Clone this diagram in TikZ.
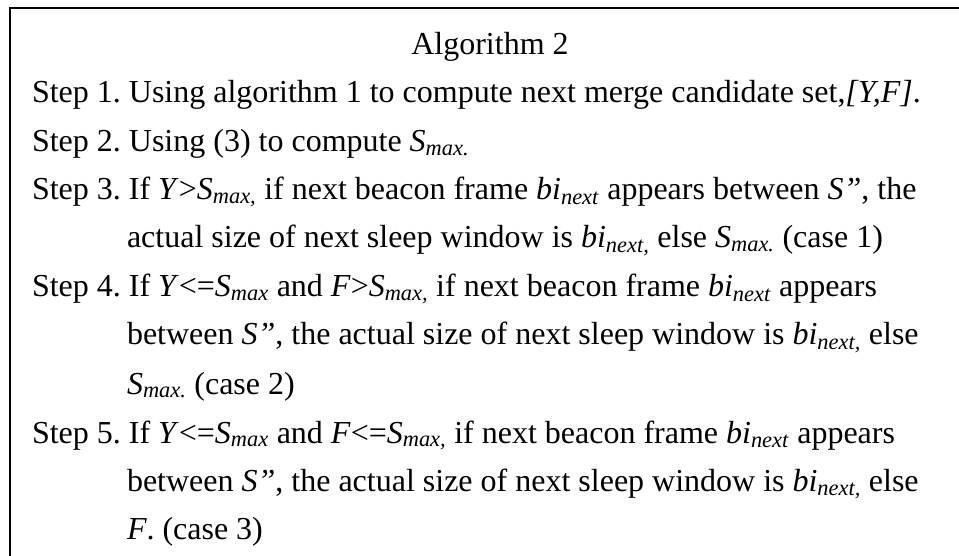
\documentclass[tikz,border=0pt]{standalone}
\usepackage{fontspec}
\setmainfont{Liberation Serif}
\newcommand{\It}[1]{\textit{#1}}
\newcommand{\Sub}[1]{\textsubscript{\textit{#1}}}
\newcommand{\Smx}[1][]{\textit{S}\Sub{max#1}}
\newcommand{\Bin}[1][]{\textit{bi}\Sub{next#1}}
\begin{document}
\frenchspacing
\begin{tikzpicture}[x=1bp,y=-1bp,
  txt/.style={anchor=base west,inner sep=0pt,outer sep=0pt,font=\fontsize{32bp}{38bp}\selectfont},
  frame/.style={line width=2bp,black}]
\useasboundingbox (0,0) rectangle (959,556);
\coordinate (tl) at (10,8);
\coordinate (tr) at (959,8);
\coordinate (bl) at (10,556);
\draw[frame] (tr) -- (tl) -- (bl);
\node[txt,anchor=base] (title) at (490,55) {Algorithm 2};
\node[txt] (s1) at (32,103) {Step 1. Using algorithm 1 to compute next merge candidate set,\It{[Y,F]}.};
\node[txt] (s2) at (32,152) {Step 2. Using (3) to compute \Smx[.]};
\node[txt] (s3a) at (32,200) {Step 3. If \It{Y}>\Smx[,] if next beacon frame \Bin{} appears between \It{S”}, the};
\node[txt] (s3b) at (127,248) {actual size of next sleep window is \Bin[,] else \Smx[.] (case 1)};
\node[txt] (s4a) at (32,297) {Step 4. If \It{Y}<=\Smx{} and \It{F}>\Smx[,] if next beacon frame \Bin{} appears};
\node[txt] (s4b) at (127,345) {between \It{S”}, the actual size of next sleep window is \Bin[,] else};
\node[txt] (s4c) at (127,394) {\Smx[.] (case 2)};
\node[txt] (s5a) at (32,443) {Step 5. If \It{Y}<=\Smx{} and \It{F}<=\Smx[,] if next beacon frame \Bin{} appears};
\node[txt] (s5b) at (127,491) {between \It{S”}, the actual size of next sleep window is \Bin[,] else};
\node[txt] (s5c) at (127,539) {\It{F}. (case 3)};
\end{tikzpicture}
\end{document}
